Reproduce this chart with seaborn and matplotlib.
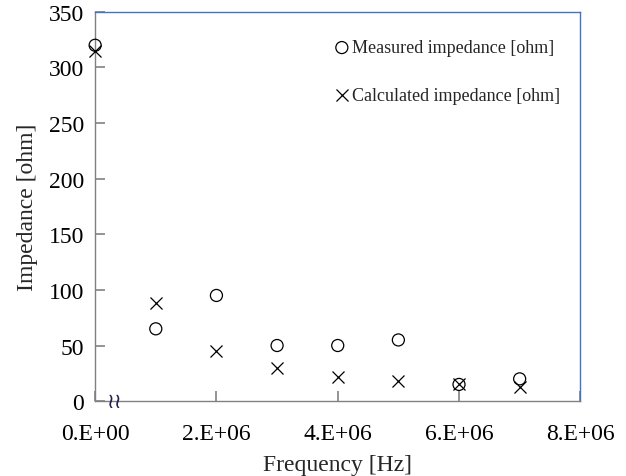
import numpy as np
import pandas as pd
import matplotlib
matplotlib.use('Agg')
import matplotlib.pyplot as plt
import seaborn as sns

freq = [0, 1e6, 2e6, 3e6, 4e6, 5e6, 6e6, 7e6]
measured = [320, 65, 95, 50, 50, 55, 15, 20]
calculated = [315, 88, 45, 30, 22, 18, 15, 13]
xticks = [0, 2e6, 4e6, 6e6, 8e6]
xticklabels = ['0.E+00', '2.E+06', '4.E+06', '6.E+06', '8.E+06']
yticks = [0, 50, 100, 150, 200, 250, 300, 350]

sns.set_style('white')
plt.rcParams['font.family'] = ['Liberation Serif', 'DejaVu Serif']
plt.rcParams['xtick.bottom'] = True
plt.rcParams['ytick.left'] = True
plt.rcParams['xtick.direction'] = 'in'
plt.rcParams['ytick.direction'] = 'in'
plt.rcParams['xtick.major.size'] = 7
plt.rcParams['ytick.major.size'] = 7
plt.rcParams['xtick.major.width'] = 1.1
plt.rcParams['ytick.major.width'] = 1.1
plt.rcParams['xtick.color'] = '#777777'
plt.rcParams['ytick.color'] = '#777777'
plt.rcParams['xtick.labelcolor'] = 'black'
plt.rcParams['ytick.labelcolor'] = 'black'

df = pd.DataFrame({'freq': freq, 'measured': measured, 'calculated': calculated})

fig = plt.figure(figsize=(6.26, 4.77), dpi=100)
ax = fig.add_axes([0.152, 0.157, 0.775, 0.816])

sns.scatterplot(x='freq', y='measured', data=df, ax=ax, marker='o', s=75,
                facecolors='none', edgecolor='black', linewidth=0.9,
                label='Measured impedance [ohm]', clip_on=False, zorder=3)
sns.scatterplot(x='freq', y='calculated', data=df, ax=ax, marker='x', s=75,
                color='black', linewidth=0.9,
                label='Calculated impedance [ohm]', clip_on=False, zorder=3)

ax.set_xlim(0, 8e6)
ax.set_ylim(0, 350)
ax.set_xticks(xticks)
ax.set_xticklabels(xticklabels)
ax.set_yticks(yticks)
ax.tick_params(axis='both', labelsize=17)
ax.tick_params(axis='x', pad=16)
ax.tick_params(axis='y', pad=8)
ax.set_xlabel('Frequency [Hz]', fontsize=17, labelpad=7)
ax.set_ylabel('Impedance [ohm]', fontsize=17, labelpad=7.5)

for s in ['left', 'bottom']:
    ax.spines[s].set_color('#808080')
    ax.spines[s].set_linewidth(1.0)
for s in ['top', 'right']:
    ax.spines[s].set_color('#4472C4')
    ax.spines[s].set_linewidth(1.0)

# axis break mark
ax.text(0.33e6, 0, '≀≀', color='#20204a', fontsize=15, ha='center', va='center',
        family=['DejaVu Sans'], clip_on=False, zorder=4)

leg = ax.legend(loc='upper right', bbox_to_anchor=(0.984, 0.962), frameon=False,
                fontsize=13, labelspacing=1.7, handletextpad=0.05,
                handlelength=1.0, borderaxespad=0.3)

fig.savefig('out.png', dpi=100)
